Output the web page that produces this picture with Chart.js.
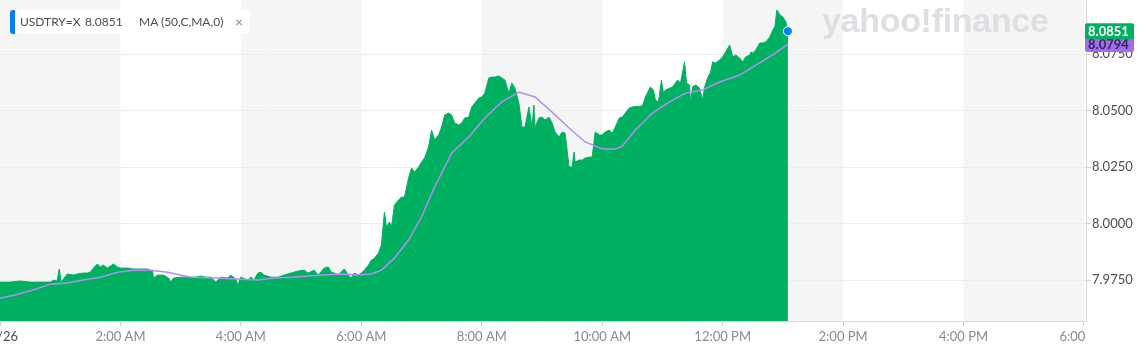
<!DOCTYPE html>
<html>
<head>
<meta charset="utf-8">
<script src="https://cdn.jsdelivr.net/npm/chart.js@4"></script>
<style>
  body { margin: 0; background: #fff; }
  #wrap { position: relative; width: 1141px; height: 351px; overflow: hidden; }
  #legend {
    position: absolute; left: 10px; top: 10px; width: 240px; height: 24px;
    background: #fff; border-radius: 3px; box-sizing: border-box;
    border-left: 5px solid #0081f2;
    font: 12px Lato, "Liberation Sans", sans-serif; color: #464e56;
    line-height: 24px; white-space: nowrap;
  }
  #legend span { position: absolute; top: 0; }
  #watermark {
    position: absolute; left: 822px; top: 1px;
    font: bold 34px "Liberation Sans", Arial, sans-serif; color: #dddfe2;
    letter-spacing: -0.3px;
  }
</style>
</head>
<body>
<div id="wrap">
  <canvas id="chart" width="1141" height="351"></canvas>
  <div id="watermark">yahoo!finance</div>
  <div id="legend">
    <span style="left:5px">USDTRY=X</span>
    <span style="left:70px">8.0851</span>
    <span style="left:124px">MA (50,C,MA,0)</span>
    <span style="left:220px;color:#828c93;font-size:14px">&#215;</span>
  </div>
</div>
<script>
// minutes since midnight on 10/26
const priceTimes = [0, 10, 20, 30, 40, 50, 54, 57, 59, 61, 64, 67, 73, 77, 83, 87, 90, 93, 97, 100,
    103, 107, 110, 113, 117, 120, 123, 127, 133, 140, 147, 150, 152, 153, 157, 163, 168, 170, 173, 180,
    187, 195, 200, 205, 210, 213, 215, 220, 227, 230, 235, 237, 240, 247, 250, 253, 257, 260, 263, 270,
    277, 283, 290, 297, 303, 307, 313, 317, 323, 327, 330, 333, 337, 343, 347, 350, 353, 357, 360, 363,
    367, 370, 373, 377, 380, 383, 385, 388, 390, 393, 397, 400, 403, 407, 410, 413, 417, 420, 423, 427,
    430, 433, 437, 440, 443, 447, 450, 453, 457, 460, 463, 467, 470, 473, 477, 480, 483, 487, 490, 493,
    497, 500, 503, 507, 510, 513, 517, 520, 523, 527, 530, 532, 533, 537, 540, 543, 547, 550, 553, 557,
    560, 563, 567, 570, 572, 573, 577, 580, 583, 587, 590, 593, 597, 600, 603, 607, 610, 613, 617, 620,
    623, 627, 630, 640, 643, 648, 651, 653, 656, 659, 661, 663, 670, 675, 678, 682, 684, 687, 688, 690,
    693, 697, 700, 702, 705, 708, 710, 713, 717, 720, 723, 727, 730, 733, 737, 740, 743, 747, 748, 750,
    753, 757, 760, 763, 767, 770, 772, 774, 777, 780, 783, 785];
const priceValues = [7.9741, 7.9741, 7.9746, 7.9741, 7.9741, 7.9741, 7.9750, 7.9746, 7.9799, 7.9741,
    7.9759, 7.9777, 7.9772, 7.9777, 7.9781, 7.9781, 7.9785, 7.9803, 7.9821, 7.9808,
    7.9816, 7.9803, 7.9812, 7.9821, 7.9808, 7.9803, 7.9803, 7.9803, 7.9799, 7.9799,
    7.9799, 7.9794, 7.9790, 7.9759, 7.9772, 7.9772, 7.9759, 7.9741, 7.9759, 7.9763,
    7.9763, 7.9763, 7.9768, 7.9763, 7.9763, 7.9750, 7.9741, 7.9763, 7.9759, 7.9772,
    7.9754, 7.9728, 7.9763, 7.9750, 7.9763, 7.9750, 7.9781, 7.9785, 7.9772, 7.9763,
    7.9763, 7.9772, 7.9781, 7.9790, 7.9794, 7.9781, 7.9794, 7.9772, 7.9803, 7.9808,
    7.9785, 7.9781, 7.9772, 7.9799, 7.9772, 7.9759, 7.9781, 7.9772, 7.9781, 7.9794,
    7.9816, 7.9838, 7.9847, 7.9869, 7.9905, 8.0051, 7.9985, 8.0007, 7.9985, 8.0082,
    8.0104, 8.0117, 8.0117, 8.0201, 8.0246, 8.0228, 8.0250, 8.0272, 8.0290, 8.0339,
    8.0414, 8.0370, 8.0392, 8.0427, 8.0480, 8.0489, 8.0480, 8.0445, 8.0436, 8.0445,
    8.0467, 8.0471, 8.0516, 8.0533, 8.0555, 8.0560, 8.0577, 8.0644, 8.0648, 8.0648,
    8.0653, 8.0644, 8.0635, 8.0577, 8.0622, 8.0600, 8.0533, 8.0427, 8.0427, 8.0516,
    8.0427, 8.0524, 8.0427, 8.0467, 8.0471, 8.0458, 8.0471, 8.0445, 8.0405, 8.0383,
    8.0405, 8.0400, 8.0250, 8.0250, 8.0316, 8.0272, 8.0281, 8.0281, 8.0290, 8.0294,
    8.0294, 8.0405, 8.0392, 8.0392, 8.0405, 8.0414, 8.0400, 8.0427, 8.0467, 8.0471,
    8.0489, 8.0511, 8.0516, 8.0520, 8.0560, 8.0604, 8.0591, 8.0547, 8.0538, 8.0635,
    8.0577, 8.0591, 8.0604, 8.0635, 8.0622, 8.0715, 8.0622, 8.0613, 8.0533, 8.0604,
    8.0613, 8.0600, 8.0547, 8.0604, 8.0644, 8.0670, 8.0715, 8.0710, 8.0724, 8.0737,
    8.0759, 8.0790, 8.0737, 8.0746, 8.0732, 8.0715, 8.0737, 8.0746, 8.0759, 8.0754,
    8.0768, 8.0799, 8.0799, 8.0803, 8.0825, 8.0856, 8.0870, 8.0945, 8.0923, 8.0914,
    8.0892, 8.0851];

const maTimes = [0, 15, 33, 50, 67, 83, 100, 117, 133, 150, 167, 190, 215, 240, 257, 273, 290, 307, 323, 340,
    357, 370, 380, 393, 407, 420, 433, 450, 467, 483, 500, 517, 533, 550, 567, 583, 600, 613, 620, 633,
    650, 667, 683, 700, 717, 737, 753, 770, 785];
const maValues = [7.9670, 7.9684, 7.9706, 7.9732, 7.9737, 7.9750, 7.9763, 7.9785, 7.9794, 7.9794,
    7.9785, 7.9763, 7.9759, 7.9754, 7.9750, 7.9759, 7.9763, 7.9768, 7.9772, 7.9777,
    7.9772, 7.9777, 7.9794, 7.9847, 7.9927, 8.0029, 8.0162, 8.0312, 8.0383, 8.0467,
    8.0538, 8.0582, 8.0560, 8.0493, 8.0423, 8.0361, 8.0330, 8.0330, 8.0343, 8.0414,
    8.0489, 8.0538, 8.0577, 8.0591, 8.0626, 8.0657, 8.0701, 8.0746, 8.0794];

const timeTickValues = [0, 120, 240, 360, 480, 600, 720, 840, 960, 1080];
const timeTickLabels = ['10/26', '2:00 AM', '4:00 AM', '6:00 AM', '8:00 AM', '10:00 AM', '12:00 PM', '2:00 PM', '4:00 PM', '6:00 PM'];
const priceTickValues = [7.975, 8.000, 8.025, 8.050, 8.075];

const lastPrice = 8.0851;
const lastMA = 8.0794;

const green = '#00b061';
const purple = '#b48cf7';

// alternating grey 2h columns + price badges on the right axis
const decorPlugin = {
    id: 'decor',
    beforeDraw(chart) {
        const { ctx, chartArea, scales } = chart;
        ctx.save();
        ctx.fillStyle = '#f5f5f5';
        for (let i = 0; i < timeTickValues.length; i += 2) {
            const x0 = scales.x.getPixelForValue(timeTickValues[i]);
            const next = timeTickValues[i + 1] !== undefined ? scales.x.getPixelForValue(timeTickValues[i + 1]) : chartArea.right;
            const x1 = Math.min(next, chartArea.right);
            ctx.fillRect(x0, chartArea.top, x1 - x0, chartArea.bottom - chartArea.top);
        }
        ctx.restore();
    },
    afterDraw(chart) {
        const { ctx, chartArea, scales } = chart;
        ctx.save();
        // hide the part of the last x label that falls past the plot
        ctx.fillStyle = '#fff';
        ctx.fillRect(chartArea.right + 1, chartArea.bottom + 6, chart.width - chartArea.right, chart.height);

        const badge = (value, bg, fg) => {
            const y = scales.y.getPixelForValue(value);
            const x = chartArea.right - 1;
            ctx.fillStyle = bg;
            ctx.beginPath();
            ctx.roundRect(x, y - 8, 49, 16, 2);
            ctx.fill();
            ctx.fillStyle = fg;
            ctx.font = 'bold 13px Lato, "Liberation Sans", sans-serif';
            ctx.textBaseline = 'middle';
            ctx.textAlign = 'left';
            ctx.fillText(value.toFixed(4), x + 3, y + 1);
        };
        badge(lastMA, '#a866f5', '#2b2f45');
        badge(lastPrice, green, '#fff');
        ctx.restore();
    }
};

const ctx = document.getElementById('chart').getContext('2d');
new Chart(ctx, {
    type: 'line',
    data: {
        datasets: [{
            label: 'MA (50,C,MA,0)',
            data: maTimes.map((t, i) => ({ x: t, y: maValues[i] })),
            borderColor: purple,
            borderWidth: 1.5,
            pointRadius: 0,
            fill: false,
            tension: 0,
            order: 0
        }, {
            label: 'USDTRY=X',
            data: priceTimes.map((t, i) => ({ x: t, y: priceValues[i] })),
            borderColor: green,
            backgroundColor: green,
            borderWidth: 1,
            fill: 'start',
            tension: 0,
            pointRadius: c => c.dataIndex === priceTimes.length - 1 ? 4.5 : 0,
            pointBackgroundColor: '#0081f2',
            pointBorderColor: '#fff',
            pointBorderWidth: 1,
            clip: false,
            order: 1
        }]
    },
    options: {
        responsive: false,
        animation: false,
        devicePixelRatio: 1,
        layout: { padding: 0, autoPadding: false },
        plugins: { legend: { display: false }, tooltip: { enabled: false } },
        scales: {
            x: {
                type: 'linear',
                min: 0,
                max: 1082,
                afterBuildTicks: s => { s.ticks = timeTickValues.map(v => ({ value: v })); },
                afterFit: s => { s.height = 30; s.paddingLeft = 0; s.paddingRight = 0; },
                grid: { drawOnChartArea: false, tickLength: 5, color: '#cdd1d4' },
                border: { color: '#d5d8db' },
                ticks: {
                    autoSkip: false,
                    maxRotation: 0,
                    padding: 3,
                    callback: (v, i) => timeTickLabels[i],
                    color: c => c.index === 0 ? '#464e56' : '#828c93',
                    font: { family: 'Lato, "Liberation Sans", sans-serif', size: 13 }
                }
            },
            y: {
                position: 'right',
                min: 7.9569,
                max: 8.0989,
                afterBuildTicks: s => { s.ticks = priceTickValues.map(v => ({ value: v })); },
                afterFit: s => { s.width = 55; s.paddingTop = 0; s.paddingBottom = 0; },
                grid: { color: '#ececec', tickColor: '#cdd1d4', tickLength: 5 },
                border: { color: '#d5d8db' },
                ticks: {
                    padding: 1,
                    callback: v => v.toFixed(4),
                    color: '#464e56',
                    font: { family: 'Lato, "Liberation Sans", sans-serif', size: 13 }
                }
            }
        }
    },
    plugins: [decorPlugin]
});
</script>
</body>
</html>
